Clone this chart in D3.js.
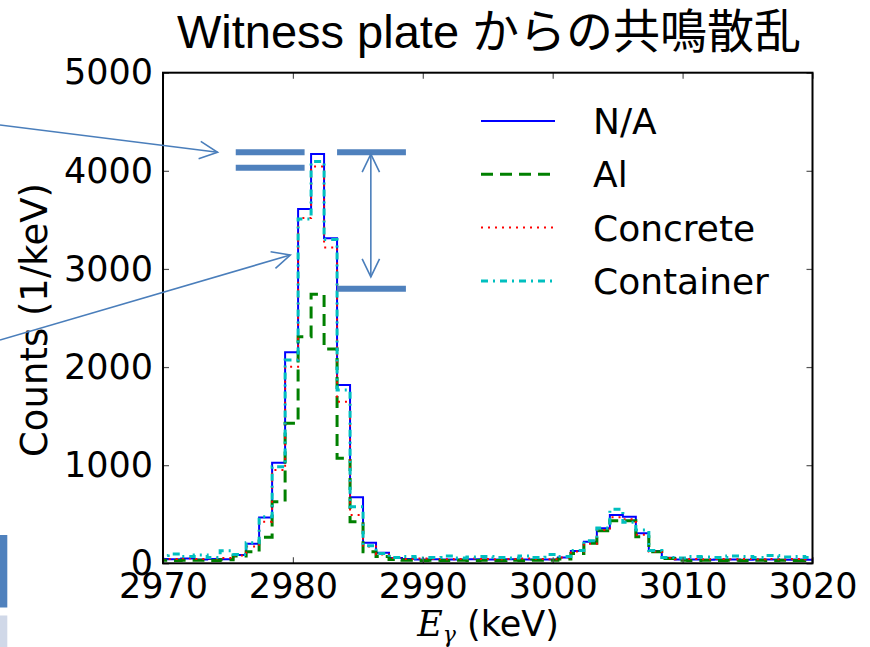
<!DOCTYPE html>
<html>
<head>
<meta charset="utf-8">
<script src="https://cdn.jsdelivr.net/npm/d3@7"></script>
<style>
  html, body { margin: 0; padding: 0; background: #fff; }
  svg { display: block; }
</style>
</head>
<body>
<svg id="chart" width="870" height="647"></svg>
<script>
// Lower edges of the 1 keV histogram bins (keV)
const binEdges = [
  2969.4, 2970.4, 2971.4, 2972.4, 2973.4, 2974.4, 2975.4, 2976.4, 2977.4, 2978.4,
  2979.4, 2980.4, 2981.4, 2982.4, 2983.4, 2984.4, 2985.4, 2986.4, 2987.4, 2988.4,
  2989.4, 2990.4, 2991.4, 2992.4, 2993.4, 2994.4, 2995.4, 2996.4, 2997.4, 2998.4,
  2999.4, 3000.4, 3001.4, 3002.4, 3003.4, 3004.4, 3005.4, 3006.4, 3007.4, 3008.4,
  3009.4, 3010.4, 3011.4, 3012.4, 3013.4, 3014.4, 3015.4, 3016.4, 3017.4, 3018.4,
  3019.4
];
const binWidth = 1;

// Counts per keV for each shielding configuration
const countsNA = [
  45, 42, 48, 40, 45, 42, 85, 200, 466, 1025,
  2150, 3612, 4172, 3313, 1817, 673, 210, 108, 55, 45,
  40, 42, 38, 40, 42, 40, 38, 42, 40, 38,
  40, 60, 125, 220, 357, 492, 475, 306, 125, 57,
  38, 40, 36, 38, 40, 36, 38, 40, 36, 38, 36
];
const countsAl = [
  30, 28, 32, 30, 28, 35, 75, 118, 265, 628,
  1427, 2310, 2742, 2184, 1070, 424, 118, 70, 40, 30,
  28, 30, 28, 30, 28, 30, 28, 30, 28, 30,
  30, 45, 100, 204, 332, 434, 434, 271, 118, 50,
  30, 28, 30, 28, 30, 28, 30, 28, 30, 28, 30
];
const countsConcrete = [
  50, 45, 52, 45, 50, 55, 80, 170, 424, 951,
  2004, 3520, 4043, 3219, 1647, 492, 170, 90, 55, 45,
  48, 45, 42, 45, 48, 45, 42, 45, 48, 45,
  42, 60, 120, 200, 340, 470, 450, 290, 120, 55,
  42, 45, 42, 45, 42, 45, 42, 45, 42, 45, 42
];
const countsContainer = [
  80, 95, 70, 85, 60, 128, 90, 210, 475, 985,
  2072, 3510, 4094, 3300, 1767, 577, 180, 100, 60, 70,
  55, 60, 75, 55, 65, 70, 60, 55, 75, 60,
  90, 70, 130, 230, 360, 550, 418, 340, 130, 60,
  55, 70, 65, 60, 75, 70, 60, 80, 65, 70, 60
];

const seriesNames = ["N/A", "Al", "Concrete", "Container"];
const xTicks = [2970, 2980, 2990, 3000, 3010, 3020];
const yTicks = [0, 1000, 2000, 3000, 4000, 5000];
const titleText = "Witness plate からの共鳴散乱";

const series = [
  { name: seriesNames[0], values: countsNA,        color: "#0000ff", width: 2,   dash: null },
  { name: seriesNames[1], values: countsAl,        color: "#008000", width: 3,   dash: "12,7" },
  { name: seriesNames[2], values: countsConcrete,  color: "#ff0000", width: 2,   dash: "2,5" },
  { name: seriesNames[3], values: countsContainer, color: "#00bfbf", width: 3,   dash: "7,5,2,5" }
];

const svg = d3.select("#chart");
const plot = { left: 163, right: 812.5, top: 72.7, bottom: 563.3 };

const x = d3.scaleLinear().domain([2970, 3020]).range([plot.left, plot.right]);
const y = d3.scaleLinear().domain([0, 5000]).range([plot.bottom, plot.top]);

svg.append("defs").append("clipPath").attr("id", "plotClip")
  .append("rect")
  .attr("x", plot.left).attr("y", plot.top)
  .attr("width", plot.right - plot.left).attr("height", plot.bottom - plot.top);

// Histogram step lines
const stepLine = d3.line()
  .x(d => x(d[0]))
  .y(d => y(d[1]))
  .curve(d3.curveStepAfter);

const lines = svg.append("g").attr("clip-path", "url(#plotClip)");
series.forEach(s => {
  const pts = binEdges.map((e, i) => [e, s.values[i]]);
  pts.push([binEdges[binEdges.length - 1] + binWidth, s.values[s.values.length - 1]]);
  lines.append("path")
    .attr("d", stepLine(pts))
    .attr("fill", "none")
    .attr("stroke", s.color)
    .attr("stroke-width", s.width)
    .attr("stroke-dasharray", s.dash)
    .attr("stroke-linejoin", "miter");
});

// Axes with inward ticks on all four sides
const tickFont = "'DejaVu Sans', sans-serif";
const gLeft = svg.append("g").attr("transform", `translate(${plot.left},0)`)
  .call(d3.axisLeft(y).tickValues(yTicks).tickSize(-6).tickPadding(10).tickFormat(d3.format("d")));
const gBottom = svg.append("g").attr("transform", `translate(0,${plot.bottom})`)
  .call(d3.axisBottom(x).tickValues(xTicks).tickSize(-6).tickPadding(10).tickFormat(d3.format("d")));
const gRight = svg.append("g").attr("transform", `translate(${plot.right},0)`)
  .call(d3.axisRight(y).tickValues(yTicks).tickSize(-6).tickFormat(""));
const gTop = svg.append("g").attr("transform", `translate(0,${plot.top})`)
  .call(d3.axisTop(x).tickValues(xTicks).tickSize(-6).tickFormat(""));

[gLeft, gBottom, gRight, gTop].forEach(g => {
  g.select(".domain").remove();
  g.selectAll(".tick line").attr("stroke", "#555").attr("stroke-width", 1.2);
  g.selectAll(".tick text")
    .attr("fill", "#000")
    .style("font-family", tickFont)
    .style("font-size", "35px");
});

// Frame
svg.append("rect")
  .attr("x", plot.left).attr("y", plot.top)
  .attr("width", plot.right - plot.left).attr("height", plot.bottom - plot.top)
  .attr("fill", "none").attr("stroke", "#000").attr("stroke-width", 2);

// Axis titles
svg.append("text")
  .attr("transform", `translate(47,${(plot.top + plot.bottom) / 2 + 2}) rotate(-90)`)
  .attr("text-anchor", "middle")
  .style("font-family", tickFont)
  .style("font-size", "37px")
  .text("Counts (1/keV)");

const xl = svg.append("text")
  .attr("x", 488).attr("y", 636)
  .attr("text-anchor", "middle")
  .style("font-family", tickFont)
  .style("font-size", "35px");
xl.append("tspan")
  .style("font-family", "'DejaVu Serif', 'Liberation Serif', serif")
  .style("font-style", "italic")
  .text("E");
xl.append("tspan")
  .attr("dy", 6)
  .style("font-family", "'DejaVu Serif', serif")
  .style("font-style", "italic")
  .style("font-size", "22px")
  .text("γ");
xl.append("tspan")
  .attr("dy", -6)
  .text(" (keV)");

// Title
svg.append("text")
  .attr("x", 489).attr("y", 48)
  .attr("text-anchor", "middle")
  .style("font-family", "'Liberation Sans', Arial, 'Noto Sans CJK JP', sans-serif")
  .style("font-size", "47px")
  .text(titleText);

// Legend
const legend = svg.append("g");
series.forEach((s, i) => {
  const ly = 121 + i * 53.3;
  legend.append("line")
    .attr("x1", 481).attr("x2", 555)
    .attr("y1", ly).attr("y2", ly)
    .attr("stroke", s.color)
    .attr("stroke-width", s.width)
    .attr("stroke-dasharray", s.dash);
  legend.append("text")
    .attr("x", 593).attr("y", ly)
    .attr("dy", "0.36em")
    .style("font-family", tickFont)
    .style("font-size", "36px")
    .text(s.name);
});

// Callout overlay: peak-height markers and arrows (placed in data units)
const callColor = "#4a7ebb";
const ann = svg.append("g");
const bar = (x0, x1, v) => ann.append("line")
  .attr("x1", x(x0)).attr("x2", x(x1)).attr("y1", y(v)).attr("y2", y(v))
  .attr("stroke", "#4f81bd").attr("stroke-width", 6);
bar(2975.6, 2980.9, 4189);
bar(2975.6, 2980.9, 4032);
bar(2983.4, 2988.7, 4189);
bar(2983.4, 2988.7, 2799);

function arrow(x0, v0, x1, v1, heads) {
  const p0 = [x(x0), y(v0)], p1 = [x(x1), y(v1)];
  ann.append("line")
    .attr("x1", p0[0]).attr("y1", p0[1]).attr("x2", p1[0]).attr("y2", p1[1])
    .attr("stroke", callColor).attr("stroke-width", 1.6);
  const head = (tip, from) => {
    const a = Math.atan2(tip[1] - from[1], tip[0] - from[0]);
    const L = 20, w = 0.45;
    const pts = [
      [tip[0] - L * Math.cos(a - w), tip[1] - L * Math.sin(a - w)],
      tip,
      [tip[0] - L * Math.cos(a + w), tip[1] - L * Math.sin(a + w)]
    ];
    ann.append("path")
      .attr("d", d3.line()(pts))
      .attr("fill", "none").attr("stroke", callColor).attr("stroke-width", 1.6);
  };
  head(p1, p0);
  if (heads === 2) head(p0, p1);
}
arrow(2957.45, 4467, 2974.2, 4189, 1);
arrow(2957.45, 2276, 2979.8, 3142, 1);
arrow(2986.0, 4170, 2986.0, 2920, 2);

// Slide-edge decorations at the lower left
svg.append("rect").attr("x", 0).attr("y", 535).attr("width", 7.3).attr("height", 72.5).attr("fill", "#4f81bd");
svg.append("rect").attr("x", 0).attr("y", 615.5).attr("width", 7.3).attr("height", 32).attr("fill", "#d0d8e8");
</script>
</body>
</html>
